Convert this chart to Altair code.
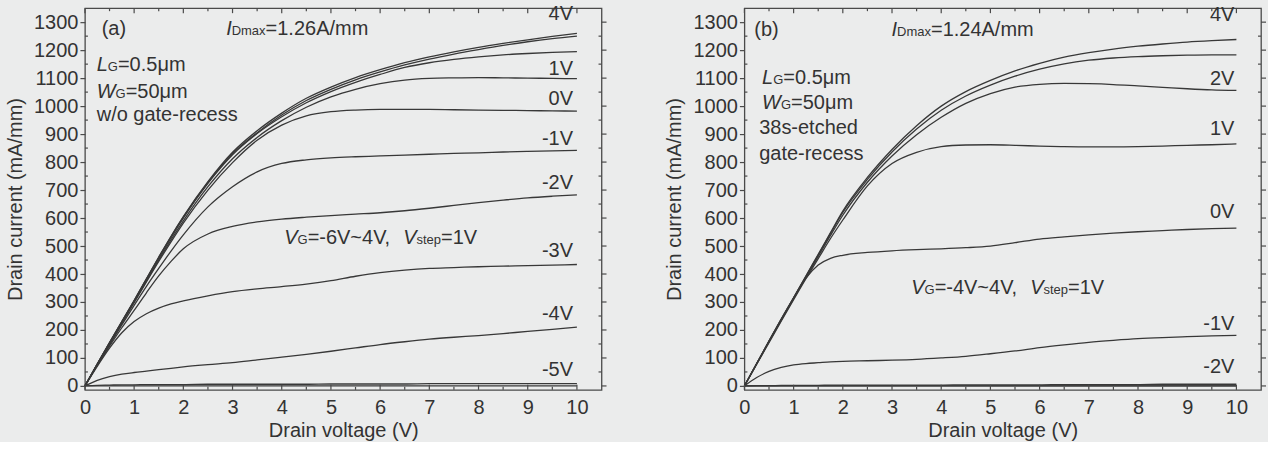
import altair as alt
import pandas as pd

FONT = "Liberation Sans"
TXT = "#333333"
LINE = "#383838"
FRAME = "#4a4a4a"
BG = "#ebecec"

# ---------------- data ----------------
V_GRID = [0, 0.25, 0.5, 0.75, 1, 1.25, 1.5, 1.75, 2, 2.5, 3, 3.5, 4, 4.5, 5,
          5.5, 6, 6.5, 7, 7.5, 8, 8.5, 9, 9.5, 10]

# panel (a): w/o gate-recess, VG = -6V ... 4V
A_VG = ["4V", "3V", "2V", "1V", "0V", "-1V", "-2V", "-3V", "-4V", "-5V", "-6V"]
A_4V = [0, 78, 155, 230, 305, 383, 460, 535, 605, 730, 835, 912, 975, 1028, 1068, 1102, 1130, 1155, 1176, 1194, 1210, 1224, 1237, 1249, 1260]
A_3V = [0, 78, 155, 230, 305, 383, 460, 533, 603, 727, 830, 905, 968, 1020, 1060, 1094, 1122, 1147, 1168, 1186, 1202, 1217, 1230, 1241, 1250]
A_2V = [0, 77, 153, 228, 303, 380, 456, 530, 600, 724, 826, 902, 962, 1012, 1052, 1085, 1113, 1138, 1155, 1167, 1176, 1183, 1188, 1192, 1195]
A_1V = [0, 77, 152, 226, 300, 375, 450, 522, 590, 712, 812, 888, 948, 996, 1033, 1060, 1080, 1093, 1099, 1101, 1102, 1101, 1100, 1099, 1098]
A_0V = [0, 76, 150, 224, 298, 372, 445, 515, 582, 700, 798, 878, 932, 965, 980, 986, 988, 988, 988, 987, 986, 985, 984, 983, 982]
A_M1V = [0, 75, 147, 218, 288, 356, 420, 482, 540, 640, 712, 765, 795, 808, 815, 819, 822, 825, 828, 831, 833, 836, 838, 840, 842]
A_M2V = [0, 73, 142, 208, 270, 333, 393, 445, 490, 543, 570, 586, 596, 603, 609, 614, 619, 626, 635, 645, 655, 664, 672, 678, 683]
A_M3V = [0, 70, 135, 190, 230, 258, 278, 293, 304, 322, 337, 347, 355, 364, 376, 392, 405, 414, 420, 423, 426, 428, 430, 432, 434]
A_M4V = [0, 20, 33, 42, 48, 53, 58, 63, 68, 76, 83, 93, 103, 113, 124, 136, 148, 158, 167, 174, 180, 187, 195, 202, 210]
A_M5V = [0, 2, 3, 4, 4, 5, 5, 5, 5, 6, 6, 6, 6, 6, 7, 7, 7, 7, 8, 8, 8, 8, 8, 8, 8]
A_M6V = [0, 0, 0, 0, 0, 0, 0, 0, 0, 0, 0, 0, 0, 0, 0, 0, 0, 0, 0, 0, 0, 0, 0, 0, 0]

# panel (b): 38s-etched gate-recess, VG = -4V ... 4V
B_VG = ["4V", "3V", "2V", "1V", "0V", "-1V", "-2V", "-3V", "-4V"]
B_4V = [0, 80, 160, 238, 315, 393, 470, 548, 625, 745, 845, 930, 1000, 1052, 1092, 1126, 1153, 1175, 1191, 1204, 1214, 1222, 1229, 1234, 1238]
B_3V = [0, 80, 160, 238, 315, 392, 468, 545, 620, 738, 836, 918, 985, 1036, 1075, 1107, 1132, 1151, 1164, 1172, 1177, 1180, 1182, 1183, 1183]
B_2V = [0, 79, 158, 235, 312, 388, 463, 538, 610, 728, 822, 898, 960, 1010, 1045, 1068, 1078, 1081, 1080, 1077, 1072, 1067, 1062, 1058, 1056]
B_1V = [0, 78, 155, 232, 308, 383, 455, 527, 593, 715, 795, 835, 855, 861, 862, 860, 857, 855, 854, 854, 855, 857, 860, 862, 865]
B_0V = [0, 80, 160, 240, 315, 385, 432, 456, 467, 477, 483, 487, 490, 494, 500, 512, 525, 533, 540, 546, 551, 555, 559, 562, 564]
B_M1V = [0, 30, 52, 66, 75, 80, 83, 86, 88, 90, 92, 95, 100, 106, 115, 125, 137, 147, 156, 163, 169, 173, 176, 179, 181]
B_M2V = [0, 1, 1, 2, 2, 2, 2, 3, 3, 3, 3, 3, 3, 4, 4, 4, 4, 5, 5, 5, 5, 6, 6, 6, 6]
B_M3V = [0] * 25
B_M4V = [0] * 25

X_TICKS = [0, 1, 2, 3, 4, 5, 6, 7, 8, 9, 10]
X_MINOR = [0.5, 1.5, 2.5, 3.5, 4.5, 5.5, 6.5, 7.5, 8.5, 9.5]
Y_TICKS = list(range(0, 1301, 100))
Y_MINOR = list(range(50, 1300, 100))

A_CURVES = [A_4V, A_3V, A_2V, A_1V, A_0V, A_M1V, A_M2V, A_M3V, A_M4V, A_M5V, A_M6V]
B_CURVES = [B_4V, B_3V, B_2V, B_1V, B_0V, B_M1V, B_M2V, B_M3V, B_M4V]

# ---------------- layout constants ----------------
W, H = 517, 382
XS = alt.Scale(domain=[0, 10.5], nice=False, zero=False)
YS = alt.Scale(domain=[-14, 1350], nice=False, zero=False)

XAX = alt.Axis(title="Drain voltage (V)", values=X_TICKS, format="d", grid=False,
               domain=False, ticks=False, labelFont=FONT, labelFontSize=20,
               labelColor=TXT, labelPadding=8, titleFont=FONT, titleFontSize=20,
               titleColor=TXT, titleFontWeight="normal", titlePadding=3,
               labelFlush=False)
YAX = alt.Axis(title="Drain current (mA/mm)", values=Y_TICKS, format="d", grid=False,
               domain=False, ticks=True, tickSize=5, tickColor=FRAME, tickWidth=1.2,
               labelFont=FONT, labelFontSize=20, labelColor=TXT, labelPadding=2,
               titleFont=FONT, titleFontSize=20, titleColor=TXT,
               titleFontWeight="normal", titlePadding=8, labelFlush=False)

X = alt.X("V:Q", scale=XS, axis=XAX)
Y = alt.Y("I:Q", scale=YS, axis=YAX)

CW = {"0": .556, "1": .556, "2": .556, "3": .556, "4": .556, "5": .556, "6": .556,
      "7": .556, "8": .556, "9": .556, ".": .278, "=": .584, "A": .667, "/": .278,
      "m": .833, "\u03bc": .576, "V": .667, "-": .333, "~": .584, ",": .278,
      " ": .278, "D": .722, "a": .556, "x": .5, "s": .5, "t": .278, "e": .556,
      "p": .556, "G": .778, "L": .556, "W": .944, "I": .278}


def twidth(s, size):
    return sum(CW.get(c, 0.556) for c in s) * size


def rich(parts, x, y):
    df = pd.DataFrame({"V": [x], "I": [y]})
    layers = []
    dx = 0.0
    for txt, size, italic in parts:
        layers.append(
            alt.Chart(df).mark_text(text=txt, align="left", baseline="alphabetic",
                                    dx=dx, dy=7, font=FONT, fontSize=size,
                                    fontStyle="italic" if italic else "normal",
                                    color=TXT).encode(x=X, y=Y))
        dx += twidth(txt, size)
    return layers


def curves_df(names, curves):
    rows = []
    for n, vals in zip(names, curves):
        for v, i in zip(V_GRID, vals):
            rows.append({"VG": n, "V": v, "I": i})
    return pd.DataFrame(rows)


def frame_ticks():
    xt = pd.DataFrame({"V": X_TICKS})
    xm = pd.DataFrame({"V": X_MINOR})
    yt = pd.DataFrame({"I": Y_TICKS})
    ym = pd.DataFrame({"I": Y_MINOR})
    st = dict(color=FRAME, strokeWidth=1.2)
    return [
        alt.Chart(xt).mark_rule(**st).encode(x=X, y=alt.value(H), y2=alt.value(H - 5)),
        alt.Chart(xt).mark_rule(**st).encode(x=X, y=alt.value(0), y2=alt.value(5)),
        alt.Chart(xm).mark_rule(**st).encode(x=X, y=alt.value(H), y2=alt.value(H - 3)),
        alt.Chart(xm).mark_rule(**st).encode(x=X, y=alt.value(0), y2=alt.value(3)),
        alt.Chart(yt).mark_rule(**st).encode(y=Y, x=alt.value(W), x2=alt.value(W + 5)),
        alt.Chart(ym).mark_rule(**st).encode(y=Y, x=alt.value(0), x2=alt.value(3)),
        alt.Chart(ym).mark_rule(**st).encode(y=Y, x=alt.value(W), x2=alt.value(W - 3)),
    ]


def panel(names, curves, tag, idmax, tag_pos, idmax_pos, info_lines, vg_text,
          vg_pos, label_names, label_y, label_x):
    lines = alt.Chart(curves_df(names, curves)).mark_line(
        color=LINE, strokeWidth=1.3, interpolate="monotone").encode(
        x=X, y=Y, detail="VG:N")
    labs = alt.Chart(pd.DataFrame({"txt": label_names, "I": label_y,
                                   "V": [label_x] * len(label_names)})).mark_text(
        align="right", baseline="middle", font=FONT, fontSize=20, color=TXT).encode(
        x=X, y=Y, text="txt:N")
    layers = [lines, labs] + frame_ticks()
    layers += rich([(tag, 20, False)], *tag_pos)
    layers += rich([("I", 20, True), ("Dmax", 13, False), (idmax, 20, False)], *idmax_pos)
    for parts, pos in info_lines:
        layers += rich(parts, *pos)
    layers += rich(vg_text, *vg_pos)
    return alt.layer(*layers).properties(width=W, height=H)


pa = panel(A_VG, A_CURVES, "(a)", "=1.26A/mm", (0.34, 1279), (2.87, 1279),
           [([("L", 20, True), ("G", 13, False), ("=0.5\u03bcm", 20, False)], (0.24, 1150)),
            ([("W", 20, True), ("G", 13, False), ("=50\u03bcm", 20, False)], (0.24, 1054)),
            ([("w/o gate-recess", 20, False)], (0.24, 971))],
           [("V", 20, True), ("G", 13, False), ("=-6V~4V,  ", 20, False),
            ("V", 20, True), ("step", 13, False), ("=1V", 20, False)],
           (4.05, 532),
           ["4V", "1V", "0V", "-1V", "-2V", "-3V", "-4V", "-5V"],
           [1329, 1132, 1025, 882, 725, 482, 257, 57], 9.92)

pb = panel(B_VG, B_CURVES, "(b)", "=1.24A/mm", (0.2, 1275), (2.99, 1275),
           [([("L", 20, True), ("G", 13, False), ("=0.5\u03bcm", 20, False)], (0.36, 1104)),
            ([("W", 20, True), ("G", 13, False), ("=50\u03bcm", 20, False)], (0.36, 1014)),
            ([("38s-etched", 20, False)], (0.3, 925)),
            ([("gate-recess", 20, False)], (0.3, 832))],
           [("V", 20, True), ("G", 13, False), ("=-4V~4V,  ", 20, False),
            ("V", 20, True), ("step", 13, False), ("=1V", 20, False)],
           (3.39, 354),
           ["4V", "2V", "1V", "0V", "-1V", "-2V"],
           [1325, 1097, 919, 621, 222, 68], 9.96)

chart = alt.hconcat(pa, pb, spacing=55).properties(
    padding={"left": 4, "top": 3, "right": 0, "bottom": 0},
    background=BG,
).configure_view(stroke=FRAME, strokeWidth=1.3, fill=BG)

chart.save("out.html", embed_options={"renderer": "svg", "actions": False})
